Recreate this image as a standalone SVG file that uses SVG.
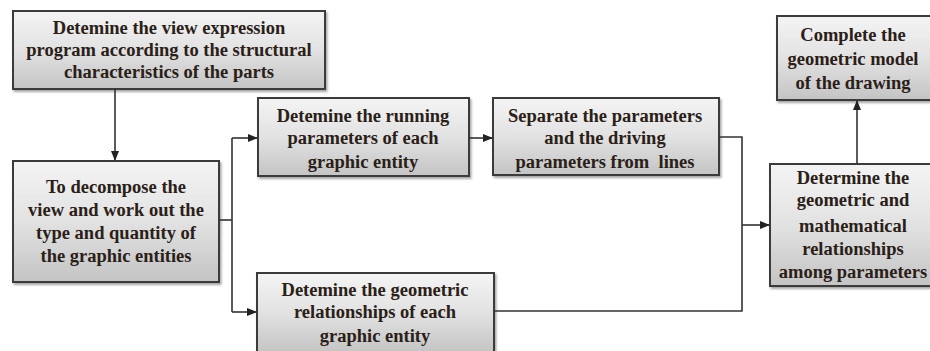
<svg xmlns="http://www.w3.org/2000/svg" width="930" height="351" viewBox="0 0 930 351">
<defs>
<linearGradient id="g" x1="0" y1="0" x2="0" y2="1">
<stop offset="0" stop-color="#f4f4f4"/>
<stop offset="0.5" stop-color="#e2e2e2"/>
<stop offset="1" stop-color="#c4c4c4"/>
</linearGradient>
<filter id="sh" x="-5%" y="-5%" width="115%" height="120%">
<feDropShadow dx="1.5" dy="2" stdDeviation="1.2" flood-color="#000" flood-opacity="0.35"/>
</filter>
<marker id="ar" markerWidth="10" markerHeight="8" refX="9" refY="4" orient="auto" markerUnits="userSpaceOnUse">
<path d="M0,0 L10,4 L0,8 Z" fill="#222"/>
</marker>
</defs>
<style>
.box{fill:url(#g);stroke:#3a3a3a;stroke-width:2;filter:url(#sh)}
.t{font-family:"Liberation Serif","Times New Roman",serif;font-size:18.5px;font-weight:bold;fill:#2a2018;text-anchor:middle}
.c{fill:none;stroke:#333;stroke-width:1.6}
</style>
<g id="n1">
<rect class="box" x="13" y="11" width="312" height="78"/>
<text class="t" x="169" y="34">Detemine the view expression</text>
<text class="t" x="169" y="56">program according to the structural</text>
<text class="t" x="169" y="78">characteristics of the parts</text>
</g>
<g id="n2">
<rect class="box" x="13" y="161" width="206" height="121"/>
<text class="t" x="116" y="193">To decompose the</text>
<text class="t" x="116" y="216">view and work out the</text>
<text class="t" x="116" y="239">type and quantity of</text>
<text class="t" x="116" y="262">the graphic entities</text>
</g>
<g id="n3">
<rect class="box" x="258" y="98" width="211" height="78"/>
<text class="t" x="363" y="122">Detemine the running</text>
<text class="t" x="363" y="144">parameters of each</text>
<text class="t" x="363" y="168">graphic entity</text>
</g>
<g id="n4">
<rect class="box" x="257" y="273" width="237" height="80"/>
<text class="t" x="375" y="296">Detemine the geometric</text>
<text class="t" x="375" y="318">relationships of each</text>
<text class="t" x="375" y="342">graphic entity</text>
</g>
<g id="n5">
<rect class="box" x="493" y="98" width="226" height="77"/>
<text class="t" x="605" y="122">Separate the parameters</text>
<text class="t" x="605" y="144">and the driving</text>
<text class="t" x="605" y="168" xml:space="preserve">parameters from  lines</text>
</g>
<g id="n6">
<rect class="box" x="770" y="164" width="162" height="122"/>
<text class="t" x="853" y="184">Determine the</text>
<text class="t" x="853" y="206">geometric and</text>
<text class="t" x="853" y="232">mathematical</text>
<text class="t" x="853" y="255">relationships</text>
<text class="t" x="853" y="278">among parameters</text>
</g>
<g id="n7">
<rect class="box" x="777" y="16" width="155" height="84"/>
<text class="t" x="853" y="41">Complete the</text>
<text class="t" x="853" y="65">geometric model</text>
<text class="t" x="853" y="89">of the drawing</text>
</g>
<g id="connectors">
<path class="c" d="M115,89 V160" marker-end="url(#ar)"/>
<path class="c" d="M219,220 H232"/>
<path class="c" d="M232,138 V312"/>
<path class="c" d="M232,138 H257" marker-end="url(#ar)"/>
<path class="c" d="M232,312 H256" marker-end="url(#ar)"/>
<path class="c" d="M469,138 H492" marker-end="url(#ar)"/>
<path class="c" d="M719,137 H742 V311 H494"/>
<path class="c" d="M742,225 H769" marker-end="url(#ar)"/>
<path class="c" d="M857,164 V101" marker-end="url(#ar)"/>
</g>
</svg>
